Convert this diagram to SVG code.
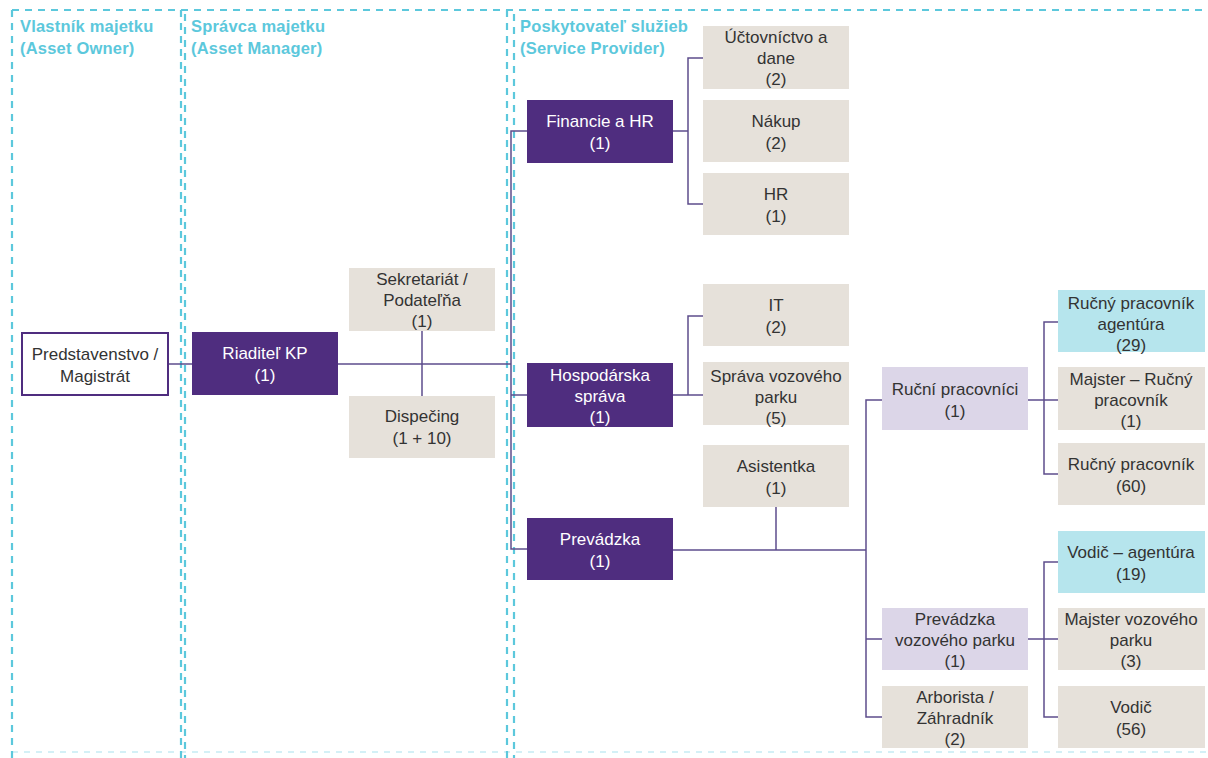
<svg xmlns="http://www.w3.org/2000/svg" width="1208" height="758" viewBox="0 0 1208 758">
<style>
.bg{fill:#ffffff}
.lane{stroke:#5cc8dc;stroke-width:2.2;stroke-dasharray:7 6;fill:none}
.lane2{stroke:#5cc8dc;stroke-width:1.6;stroke-dasharray:6 6;fill:none}
.hdr{font-family:"Liberation Sans",Arial,sans-serif;font-size:16.5px;font-weight:bold;fill:#5cc8dc;letter-spacing:0.2px}
.dark{fill:#4f2d7f}
.beige{fill:#e6e1da}
.lav{fill:#dcd6e8}
.cyan{fill:#b6e5ed}
.white{fill:#ffffff;stroke:#4f2d7f;stroke-width:2}
.t{font-family:"Liberation Sans",Arial,sans-serif;font-size:17px;fill:#333333;text-anchor:middle}
.tw{font-family:"Liberation Sans",Arial,sans-serif;font-size:17px;fill:#ffffff;text-anchor:middle}
.c{stroke:#5d4d8c;stroke-width:1.5;fill:none}
</style>
<rect class="bg" width="1208" height="758"/>
<g id="lanes">
<line class="lane" x1="12" y1="10" x2="1208" y2="10"/>
<line class="lane2" x1="12" y1="752" x2="1208" y2="752" stroke-opacity="0.35"/>
<line class="lane" x1="12" y1="10" x2="12" y2="758"/>
<line class="lane" x1="181" y1="10" x2="181" y2="758"/>
<line class="lane" x1="185" y1="14" x2="185" y2="758"/>
<line class="lane" x1="507" y1="10" x2="507" y2="758"/>
<line class="lane" x1="514" y1="14" x2="514" y2="758"/>
<text class="hdr" x="20" y="32">Vlastník majetku</text>
<text class="hdr" x="20" y="54">(Asset Owner)</text>
<text class="hdr" x="191" y="32">Správca majetku</text>
<text class="hdr" x="191" y="54">(Asset Manager)</text>
<text class="hdr" x="520" y="32">Poskytovateľ služieb</text>
<text class="hdr" x="520" y="54">(Service Provider)</text>
</g>
<g id="connectors">
<path class="c" d="M168 364H192"/>
<path class="c" d="M338 364H511"/>
<path class="c" d="M422 331V396"/>
<path class="c" d="M527 131H511V549H527" stroke="#8a5a9a"/>
<path class="c" d="M511 395H527"/>
<path class="c" d="M673 131H688"/>
<path class="c" d="M703 58H688V204H703"/>
<path class="c" d="M673 395H703"/>
<path class="c" d="M703 316H688V395"/>
<path class="c" d="M673 550H866"/>
<path class="c" d="M776 507V550"/>
<path class="c" d="M882 400H866V717H882"/>
<path class="c" d="M866 639H882"/>
<path class="c" d="M1028 400H1058"/>
<path class="c" d="M1058 322H1044V474H1058"/>
<path class="c" d="M1028 639H1058"/>
<path class="c" d="M1058 562H1044V717H1058"/>
</g>
<g id="n-predstavenstvo"><rect class="white" x="22" y="333" width="146" height="62"/><text class="t" x="95" y="360">Predstavenstvo /</text><text class="t" x="95" y="382">Magistrát</text></g>
<g id="n-riaditel"><rect class="dark" x="192" y="332" width="146" height="63"/><text class="tw" x="265" y="359">Riaditeľ KP</text><text class="tw" x="265" y="381">(1)</text></g>
<g id="n-sekretariat"><rect class="beige" x="349" y="268" width="146" height="63"/><text class="t" x="422" y="285">Sekretariát /</text><text class="t" x="422" y="306">Podateľňa</text><text class="t" x="422" y="327">(1)</text></g>
<g id="n-dispecing"><rect class="beige" x="349" y="396" width="146" height="62"/><text class="t" x="422" y="422">Dispečing</text><text class="t" x="422" y="444">(1 + 10)</text></g>
<g id="n-financie"><rect class="dark" x="527" y="100" width="146" height="63"/><text class="tw" x="600" y="127">Financie a HR</text><text class="tw" x="600" y="149">(1)</text></g>
<g id="n-uctovnictvo"><rect class="beige" x="703" y="26" width="146" height="63"/><text class="t" x="776" y="43">Účtovníctvo a</text><text class="t" x="776" y="64">dane</text><text class="t" x="776" y="85">(2)</text></g>
<g id="n-nakup"><rect class="beige" x="703" y="100" width="146" height="62"/><text class="t" x="776" y="127">Nákup</text><text class="t" x="776" y="149">(2)</text></g>
<g id="n-hr"><rect class="beige" x="703" y="173" width="146" height="62"/><text class="t" x="776" y="200">HR</text><text class="t" x="776" y="222">(1)</text></g>
<g id="n-it"><rect class="beige" x="703" y="284" width="146" height="62"/><text class="t" x="776" y="311">IT</text><text class="t" x="776" y="333">(2)</text></g>
<g id="n-sprava"><rect class="beige" x="703" y="362" width="146" height="63"/><text class="t" x="776" y="382">Správa vozového</text><text class="t" x="776" y="403">parku</text><text class="t" x="776" y="424">(5)</text></g>
<g id="n-hospodarska"><rect class="dark" x="527" y="363" width="146" height="64"/><text class="tw" x="600" y="381">Hospodárska</text><text class="tw" x="600" y="402">správa</text><text class="tw" x="600" y="423">(1)</text></g>
<g id="n-asistentka"><rect class="beige" x="703" y="445" width="146" height="62"/><text class="t" x="776" y="472">Asistentka</text><text class="t" x="776" y="494">(1)</text></g>
<g id="n-prevadzka"><rect class="dark" x="527" y="518" width="146" height="62"/><text class="tw" x="600" y="545">Prevádzka</text><text class="tw" x="600" y="567">(1)</text></g>
<g id="n-rucni"><rect class="lav" x="882" y="367" width="146" height="63"/><text class="t" x="955" y="395">Ruční pracovníci</text><text class="t" x="955" y="417">(1)</text></g>
<g id="n-rucny-agentura"><rect class="cyan" x="1058" y="290" width="147" height="62"/><text class="t" x="1131" y="309">Ručný pracovník</text><text class="t" x="1131" y="330">agentúra</text><text class="t" x="1131" y="351">(29)</text></g>
<g id="n-majster-rucny"><rect class="beige" x="1058" y="367" width="147" height="63"/><text class="t" x="1131" y="385">Majster – Ručný</text><text class="t" x="1131" y="406">pracovník</text><text class="t" x="1131" y="427">(1)</text></g>
<g id="n-rucny"><rect class="beige" x="1058" y="443" width="147" height="62"/><text class="t" x="1131" y="470">Ručný pracovník</text><text class="t" x="1131" y="492">(60)</text></g>
<g id="n-vodic-agentura"><rect class="cyan" x="1058" y="531" width="147" height="62"/><text class="t" x="1131" y="558">Vodič – agentúra</text><text class="t" x="1131" y="580">(19)</text></g>
<g id="n-prevadzka-vp"><rect class="lav" x="882" y="608" width="146" height="62"/><text class="t" x="955" y="625">Prevádzka</text><text class="t" x="955" y="646">vozového parku</text><text class="t" x="955" y="667">(1)</text></g>
<g id="n-majster-vp"><rect class="beige" x="1058" y="608" width="147" height="62"/><text class="t" x="1131" y="625">Majster vozového</text><text class="t" x="1131" y="646">parku</text><text class="t" x="1131" y="667">(3)</text></g>
<g id="n-arborista"><rect class="beige" x="882" y="686" width="146" height="62"/><text class="t" x="955" y="703">Arborista /</text><text class="t" x="955" y="724">Záhradník</text><text class="t" x="955" y="745">(2)</text></g>
<g id="n-vodic"><rect class="beige" x="1058" y="686" width="147" height="62"/><text class="t" x="1131" y="713">Vodič</text><text class="t" x="1131" y="735">(56)</text></g>
</svg>
